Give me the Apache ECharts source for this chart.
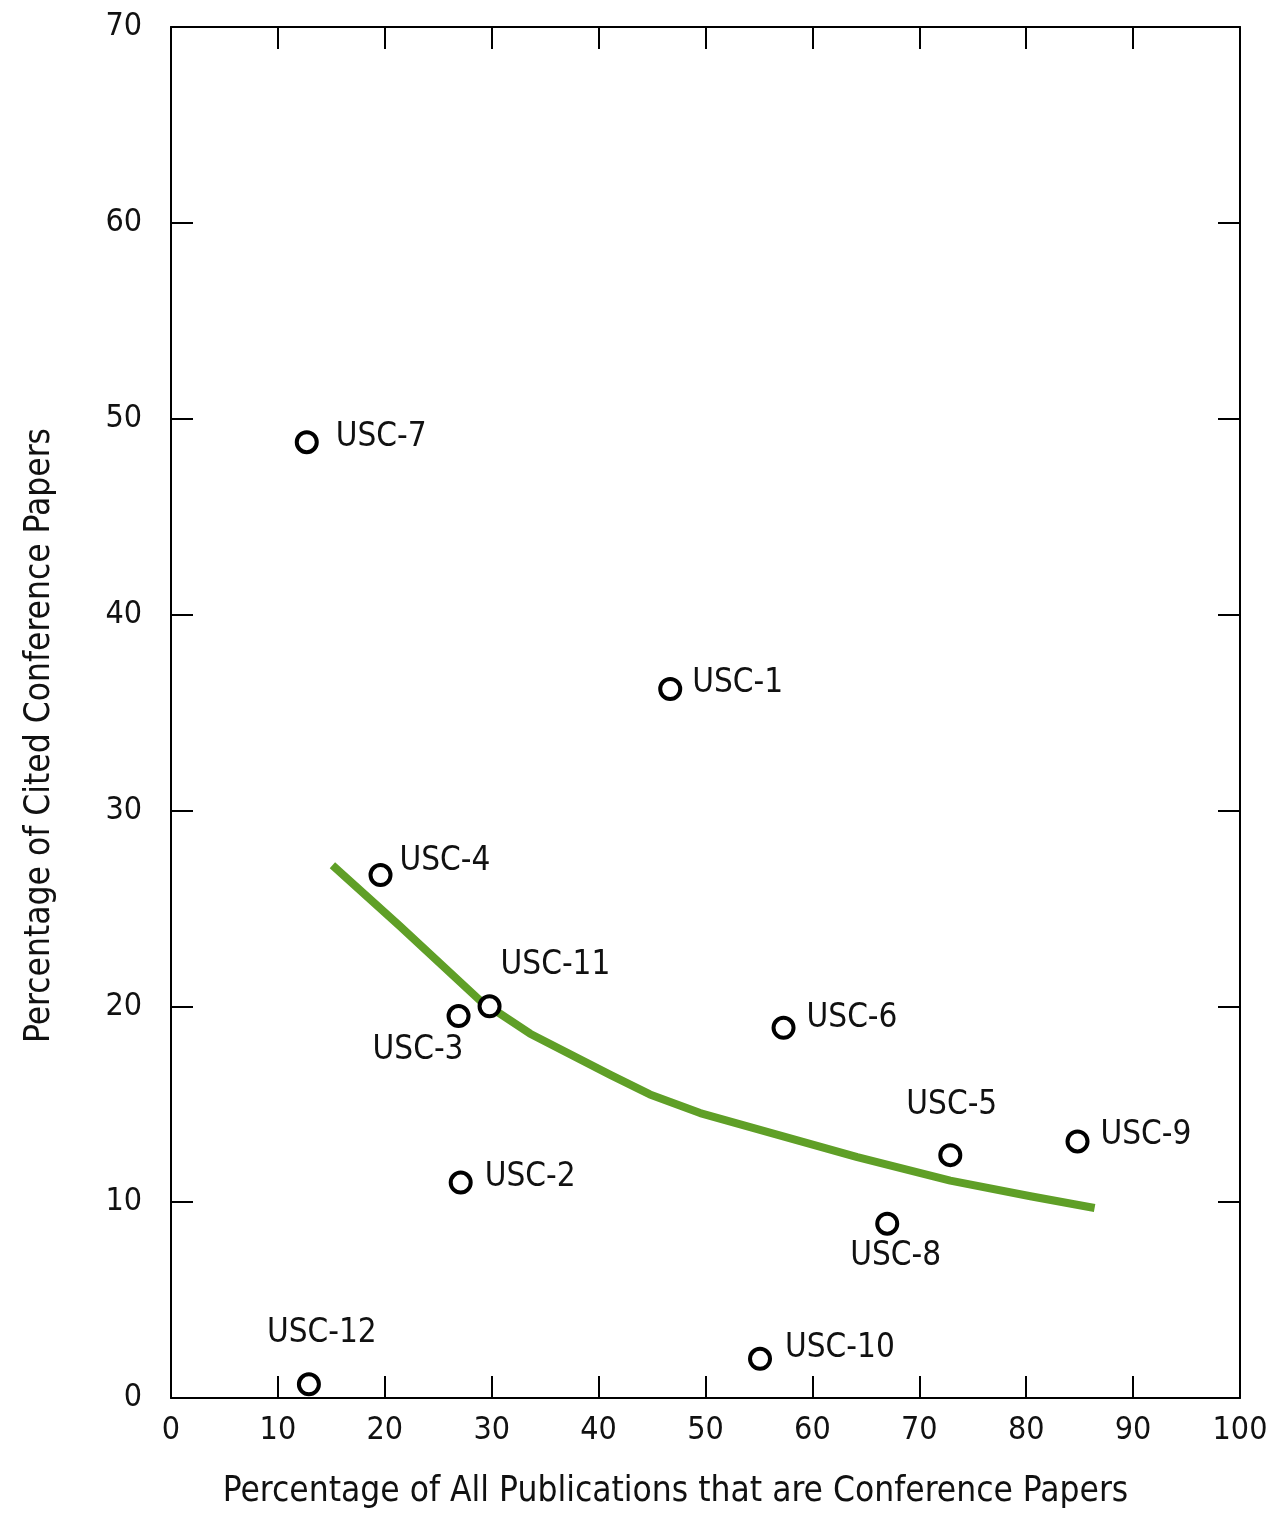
<!DOCTYPE html>
<html>
<head>
<meta charset="utf-8">
<script src="https://cdn.jsdelivr.net/npm/echarts@6/dist/echarts.min.js"></script>
<style>
  html, body { margin: 0; padding: 0; background: #fff; }
  #chart { width: 1273px; height: 1514px; }
</style>
</head>
<body>
<div id="chart"></div>
<script>
// Institutions and their shares (x: % of all publications that are conference papers,
// y: % of cited papers that are conference papers)
const unitNames = ['USC-1', 'USC-2', 'USC-3', 'USC-4', 'USC-5', 'USC-6',
                   'USC-7', 'USC-8', 'USC-9', 'USC-10', 'USC-11', 'USC-12'];
const pctConference = [46.7, 27.1, 26.9, 19.6, 72.9, 57.3, 12.7, 67.0, 84.8, 55.1, 29.8, 12.9];
const pctCited      = [36.2, 11.0, 19.5, 26.7, 12.4, 18.9, 48.8,  8.9, 13.1,  2.0, 20.0,  0.7];

// Fitted trend line, as a polyline
const trendX = [15.1, 21.4, 28.9, 33.6, 41.1, 44.8, 49.5, 64.2, 72.9, 80.4, 86.4];
const trendY = [27.2, 24.1, 20.3, 18.6, 16.5, 15.5, 14.55, 12.3, 11.1, 10.3, 9.7];

const xTicks = [0, 10, 20, 30, 40, 50, 60, 70, 80, 90, 100];
const yTicks = [0, 10, 20, 30, 40, 50, 60, 70];

// Label offsets from the marker centre (left edge of text, vertical middle)
const labelOffsets = {
  'USC-1': [22, -6], 'USC-2': [24, -5], 'USC-3': [-86, 34], 'USC-4': [19, -14],
  'USC-5': [-44, -50], 'USC-6': [23, -9], 'USC-7': [29, -5], 'USC-8': [-37, 33],
  'USC-9': [23, -6], 'USC-10': [25, -10], 'USC-11': [11, -41], 'USC-12': [-42, -51]
};

const FONT = "'Liberation Sans Narrow', 'DejaVu Sans Condensed', 'Roboto', sans-serif";

const scatterData = unitNames.map((n, i) => ({
  name: n,
  value: [pctConference[i], pctCited[i]],
  label: { offset: labelOffsets[n] }
}));
const trendData = trendX.map((x, i) => [x, trendY[i]]);

const axisLine = { show: true, onZero: false, lineStyle: { color: '#000', width: 2 } };
const tick = { show: true, inside: true, length: 22, lineStyle: { color: '#000', width: 2 } };

const chart = echarts.init(document.getElementById('chart'), null, { renderer: 'canvas' });
chart.setOption({
  backgroundColor: '#fff',
  animation: false,
  grid: { left: 171, right: 33, top: 27, bottom: 116, containLabel: false },
  xAxis: [
    {
      type: 'value', min: xTicks[0], max: xTicks[xTicks.length - 1], interval: 10,
      position: 'bottom',
      axisLine, axisTick: tick, splitLine: { show: false },
      axisLabel: { color: '#111', fontSize: 32, fontFamily: FONT, margin: 17 },
      name: 'Percentage of All Publications that are Conference Papers',
      nameLocation: 'middle', nameGap: 76,
      nameTextStyle: { color: '#111', fontSize: 35, fontFamily: FONT, padding: [0, 60, 0, 0] }
    },
    {
      type: 'value', min: xTicks[0], max: xTicks[xTicks.length - 1], interval: 10,
      position: 'top',
      axisLine, axisTick: tick, axisLabel: { show: false }, splitLine: { show: false }
    }
  ],
  yAxis: [
    {
      type: 'value', min: yTicks[0], max: yTicks[yTicks.length - 1], interval: 10,
      position: 'left',
      axisLine, axisTick: tick, splitLine: { show: false },
      axisLabel: { color: '#111', fontSize: 32, fontFamily: FONT, margin: 29 },
      name: 'Percentage of Cited Conference Papers',
      nameLocation: 'middle', nameGap: 114, nameRotate: 90,
      nameTextStyle: { color: '#111', fontSize: 35, fontFamily: FONT, padding: [0, 46, 0, 0] }
    },
    {
      type: 'value', min: yTicks[0], max: yTicks[yTicks.length - 1], interval: 10,
      position: 'right',
      axisLine, axisTick: tick, axisLabel: { show: false }, splitLine: { show: false }
    }
  ],
  series: [
    {
      name: 'Trend',
      type: 'line',
      data: trendData,
      smooth: false,
      showSymbol: false,
      lineStyle: { color: '#5f9f27', width: 8, cap: 'butt', join: 'round' },
      z: 2
    },
    {
      name: 'Institutions',
      type: 'scatter',
      data: scatterData,
      symbol: 'circle',
      symbolSize: 20,
      itemStyle: { color: '#fff', borderColor: '#000', borderWidth: 4, opacity: 1 },
      label: {
        show: true,
        position: 'inside',
        align: 'left',
        verticalAlign: 'middle',
        formatter: p => p.name,
        color: '#111',
        fontSize: 33,
        fontFamily: FONT
      },
      z: 3
    }
  ]
});
</script>
</body>
</html>
